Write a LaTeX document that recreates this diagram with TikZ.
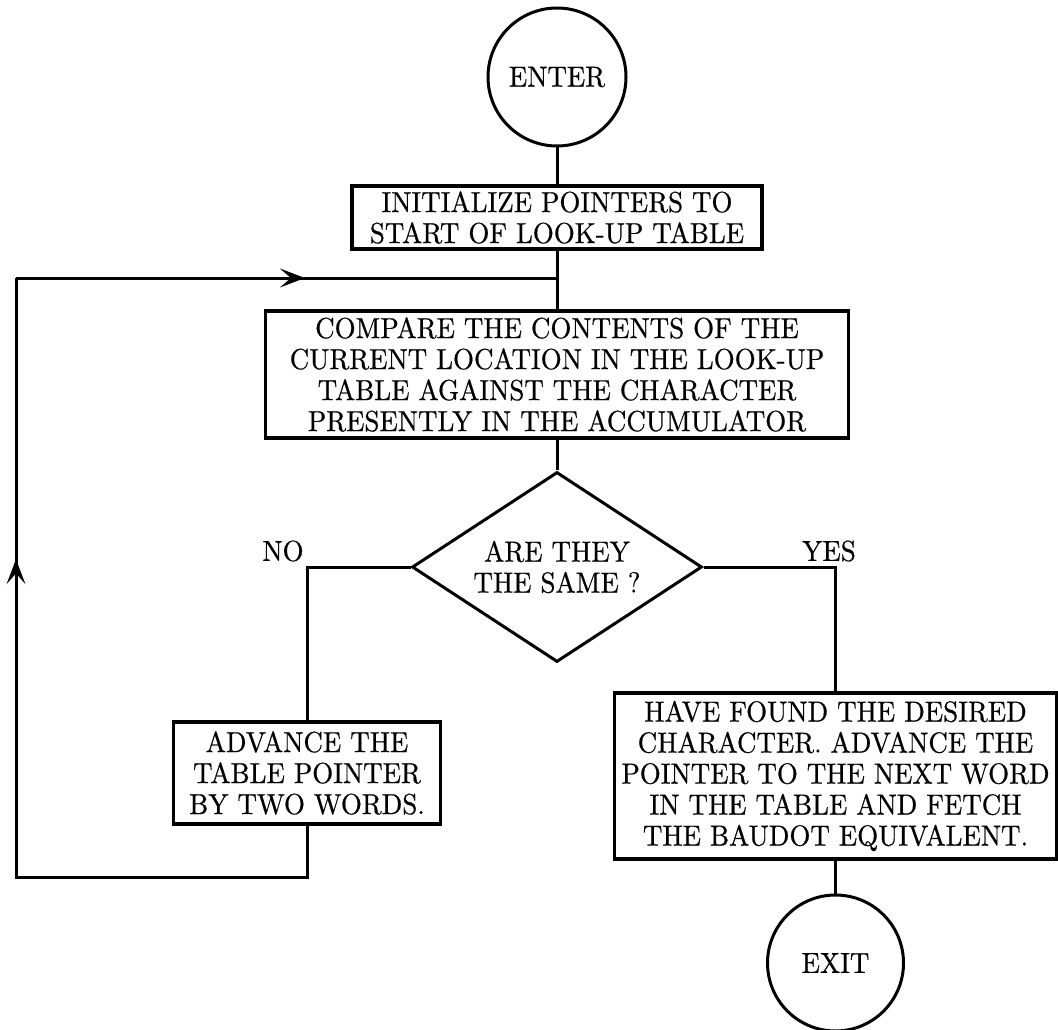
\documentclass[tikz,border=0pt]{standalone}
\usepackage{fontspec}
\setmainfont{lmroman10-regular.otf}[FakeStretch=0.93, FakeBold=0.6]
\usetikzlibrary{shapes.geometric,arrows.meta,decorations.markings}
\begin{document}
\begin{tikzpicture}[x=1pt,y=-1pt,
  every node/.style={font=\fontsize{29}{31}\selectfont},
  line/.style={line width=3pt, line join=miter},
  boxnode/.style={draw, line width=3.4pt, rectangle, align=center, inner sep=0pt},
  termnode/.style={draw, line width=3pt, circle, inner sep=0pt, minimum size=138pt},
  decnode/.style={draw, line width=3pt, diamond, aspect=1.53, align=center, inner sep=0pt, minimum width=290pt, minimum height=190pt},
  lbl/.style={inner sep=0pt},
  tipA/.style={decoration={markings, mark=at position #1 with {\arrow{Stealth[length=25pt,width=19pt,inset=11pt,line width=1.6pt]}}}, postaction=decorate}
]
\useasboundingbox (0,0) rectangle (1058,1030);

\node[termnode] (enter) at (557,77) {ENTER};
\node[boxnode, minimum width=410pt, minimum height=63pt] (init) at (557,217.5)
  {INITIALIZE POINTERS TO\\START OF LOOK-UP TABLE};
\node[boxnode, minimum width=583pt, minimum height=127pt] (cmp) at (557,374.5)
  {COMPARE THE CONTENTS OF THE\\CURRENT LOCATION IN THE LOOK-UP\\TABLE AGAINST THE CHARACTER\\PRESENTLY IN THE ACCUMULATOR};
\node[decnode] (same) at (557,567) {ARE THEY\\THE SAME ?};
\node[boxnode, minimum width=267pt, minimum height=102pt] (adv) at (307,773)
  {ADVANCE THE\\TABLE POINTER\\BY TWO WORDS.};
\node[boxnode, minimum width=442pt, minimum height=166pt] (found) at (835.5,776)
  {HAVE FOUND THE DESIRED\\CHARACTER. ADVANCE THE\\POINTER TO THE NEXT WORD\\IN THE TABLE AND FETCH\\THE BAUDOT EQUIVALENT.};
\node[termnode, minimum size=136pt] (exit) at (835.5,963) {EXIT};

\node[lbl] (no) at (283,551) {NO};
\node[lbl] (yes) at (829,551) {YES};

\coordinate (bl) at (16,877);
\coordinate (tl) at (16,278);
\coordinate (j) at (557,278);

\draw[line] (enter) -- (init);
\draw[line] (init) -- (cmp);
\draw[line] (cmp) -- (same);
\draw[line] (same.west) -| (adv.north);
\draw[line] (same.east) -| (found.north);
\draw[line] (found) -- (exit);
\draw[line, tipA=660pt] (adv.south) |- (bl) -- (tl);
\draw[line, tipA=0.534] (tl) -- (j);
\end{tikzpicture}
\end{document}
